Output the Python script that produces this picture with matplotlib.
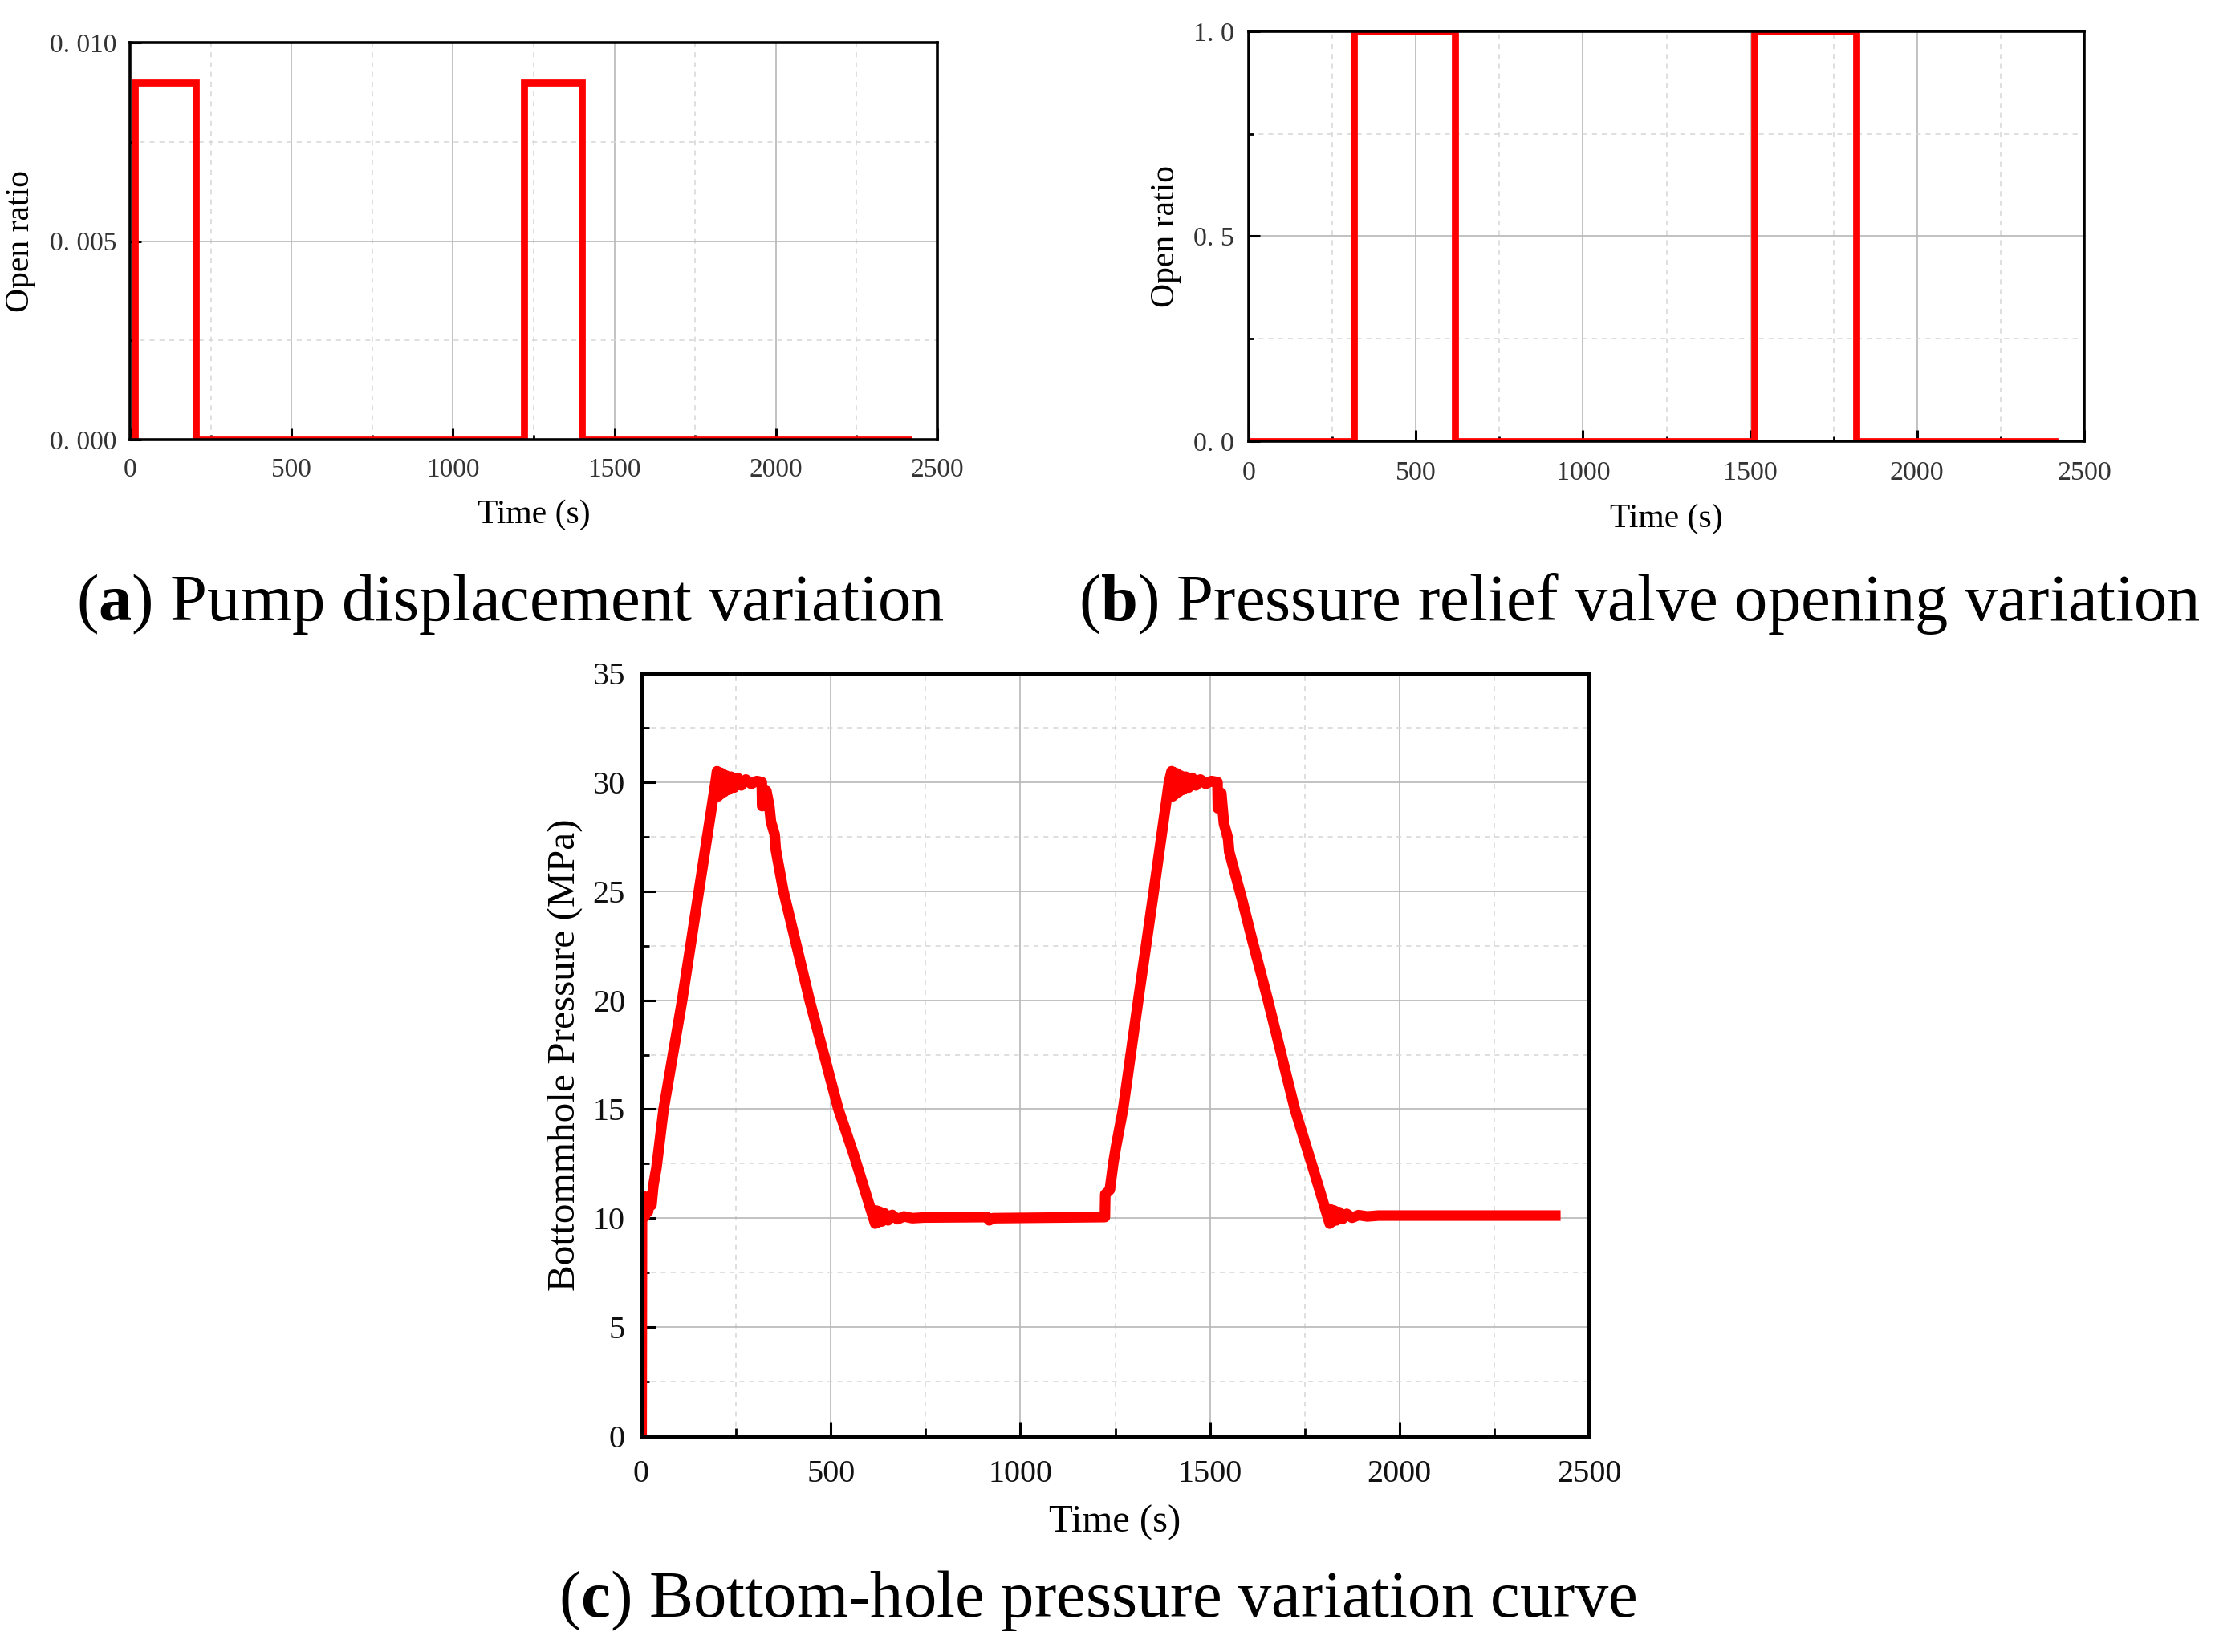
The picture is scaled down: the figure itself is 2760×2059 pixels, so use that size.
import matplotlib
matplotlib.use("Agg")
import matplotlib.pyplot as plt
from matplotlib.ticker import FixedLocator, FixedFormatter, MultipleLocator

plt.rcParams['font.family'] = ['Liberation Serif', 'DejaVu Serif']
plt.rcParams['mathtext.fontset'] = 'custom'
plt.rcParams['mathtext.rm'] = 'Liberation Serif'
plt.rcParams['mathtext.bf'] = 'Liberation Serif:bold'

# ---------------- data ----------------
pump_t = [0, 15, 15, 204, 204, 1219, 1219, 1400, 1400, 2411]
pump_v = [0, 0, 0.009, 0.009, 0, 0, 0.009, 0.009, 0, 0]

valve_t = [0, 315, 315, 617, 617, 1514, 1514, 1818, 1818, 2410]
valve_v = [0, 0, 1, 1, 0, 0, 1, 1, 0, 0]

bhp_t = [0, 1, 2, 4, 7, 10, 14, 18, 22, 27, 32, 40, 45, 59, 108, 152, 196,
         200, 203, 206, 210, 214, 219, 224, 230, 237, 245, 254, 264, 276, 290, 305, 318,
         319, 330, 338, 342, 352, 355, 375, 411, 444, 520, 559, 617,
         620, 624, 629, 635, 642, 651, 662, 676, 693, 715, 745, 912, 918, 928, 1223,
         1224, 1236, 1245, 1252, 1271, 1311, 1352, 1392, 1399,
         1402, 1405, 1409, 1413, 1418, 1423, 1429, 1436, 1444, 1453, 1463, 1475, 1489, 1504, 1520,
         1521, 1530, 1533, 1537, 1548, 1551, 1585, 1611, 1653, 1724, 1770, 1816,
         1819, 1823, 1828, 1834, 1841, 1850, 1861, 1875, 1892, 1915, 1945, 2411]
bhp_p = [0.0, 0.0, 10.6, 10.0, 11.0, 10.1, 10.9, 10.3, 11.0, 10.6, 11.5, 12.3, 13.0, 15.0, 20.0, 25.0, 30.0,
         30.5, 29.35, 30.45, 29.45, 30.4, 29.55, 30.3, 29.65, 30.25, 29.75, 30.2, 29.85, 30.12, 29.92, 30.05, 30.0,
         28.9, 29.6, 28.9, 28.2, 27.6, 26.9, 25.0, 22.4, 20.0, 15.0, 13.0, 9.75,
         10.35, 9.8, 10.3, 9.85, 10.22, 9.9, 10.15, 9.95, 10.08, 10.0, 10.03, 10.05, 9.9, 10.0, 10.05,
         11.1, 11.3, 12.5, 13.25, 15.0, 20.0, 25.0, 30.0, 30.5,
         29.35, 30.45, 29.45, 30.4, 29.55, 30.3, 29.65, 30.25, 29.75, 30.2, 29.85, 30.12, 29.92, 30.05, 30.0,
         28.8, 29.5, 28.9, 28.1, 27.4, 26.8, 24.6, 22.8, 20.0, 15.0, 12.4, 9.75,
         10.4, 9.85, 10.35, 9.9, 10.28, 9.97, 10.2, 10.02, 10.14, 10.08, 10.12, 10.12]

x_ticks = [0, 500, 1000, 1500, 2000, 2500]
x_ticklabels = ["0", "500", "1000", "1500", "2000", "2500"]
a_yticks = [0, 0.005, 0.010]
a_yticklabels = ["0. 000", "0. 005", "0. 010"]
b_yticks = [0, 0.5, 1.0]
b_yticklabels = ["0. 0", "0. 5", "1. 0"]
c_yticks = [0, 5, 10, 15, 20, 25, 30, 35]
c_yticklabels = ["0", "5", "10", "15", "20", "25", "30", "35"]

captions = ["($\\mathbf{a}$) Pump displacement variation",
            "($\\mathbf{b}$) Pressure relief valve opening variation",
            "($\\mathbf{c}$) Bottom-hole pressure variation curve"]

# ---------------- figure ----------------
W, H = 2760, 2059
fig = plt.figure(figsize=(W / 100, H / 100), dpi=100)


def axes_px(l, t, r, b):
    return fig.add_axes([l / W, 1 - b / H, (r - l) / W, (b - t) / H])


def style(ax, yticks, yticklabels, yminor, tick_fs, tick_color, spine_w,
          maj_len, min_len, xpad, ypad):
    ax.set_xlim(0, 2500)
    ax.xaxis.set_major_locator(FixedLocator(x_ticks))
    ax.xaxis.set_major_formatter(FixedFormatter(x_ticklabels))
    ax.xaxis.set_minor_locator(MultipleLocator(250))
    ax.yaxis.set_major_locator(FixedLocator(yticks))
    ax.yaxis.set_major_formatter(FixedFormatter(yticklabels))
    ax.yaxis.set_minor_locator(MultipleLocator(yminor))
    ax.set_ylim(yticks[0], yticks[-1])
    ax.set_axisbelow(True)
    ax.grid(which='major', color='#b8b8b8', lw=1.2, ls='-')
    ax.grid(which='minor', color='#d6d6d6', lw=1.1, ls=(0, (4, 4)))
    for s in ax.spines.values():
        s.set_linewidth(spine_w)
        s.set_color('black')
    ax.tick_params(which='both', direction='in', top=False, right=False,
                   colors='black', labelcolor=tick_color, labelsize=tick_fs)
    ax.tick_params(which='major', length=maj_len, width=2.2)
    ax.tick_params(which='minor', length=min_len, width=2.0)
    ax.tick_params(axis='x', which='major', pad=xpad)
    ax.tick_params(axis='y', which='major', pad=ypad)


# panel a
axa = axes_px(162, 53, 1168, 548)
axa.plot(pump_t, pump_v, color='#ff0000', lw=6.3, solid_joinstyle='miter')
style(axa, a_yticks, a_yticklabels, 0.0025, 24, '#333333', 2.6, 10, 4.5, 16.5, 12)
axa.set_xlabel("Time (s)", fontsize=30)
axa.set_ylabel("Open ratio", fontsize=30)
axa.xaxis.set_label_coords(0.5, -0.1495)
axa.yaxis.set_label_coords(-0.116, 0.5)

# panel b
axb = axes_px(1556, 39, 2597, 550)
axb.plot(valve_t, valve_v, color='#ff0000', lw=6.3, solid_joinstyle='miter')
style(axb, b_yticks, b_yticklabels, 0.25, 24.5, '#333333', 2.6, 10, 4.5, 18, 13)
axb.set_xlabel("Time (s)", fontsize=30)
axb.set_ylabel("Open ratio", fontsize=30)
axb.xaxis.set_label_coords(0.5, -0.1526)
axb.yaxis.set_label_coords(-0.0807, 0.5)

# panel c
axc = axes_px(799, 839, 1980, 1790)
axc.plot(bhp_t, bhp_p, color='#ff0000', lw=9.5, solid_joinstyle='round')
style(axc, c_yticks, c_yticklabels, 2.5, 29, '#111111', 3.6, 13, 7, 21, 14.4)
axc.set_xlabel("Time (s)", fontsize=35)
axc.set_ylabel("Bottommhole Pressure (MPa)", fontsize=35.5)
axc.xaxis.set_label_coords(0.5, -0.0904)
axc.yaxis.set_label_coords(-0.0618, 0.5)

# captions
fig.text(636 / W, 1 - 773 / H, captions[0], fontsize=59.5, ha='center', va='baseline')
fig.text(2043 / W, 1 - 773 / H, captions[1], fontsize=59.5, ha='center', va='baseline')
fig.text(1368 / W, 1 - 2015 / H, captions[2], fontsize=59.5, ha='center', va='baseline')

fig.savefig("out.png", dpi=100, facecolor='white')
